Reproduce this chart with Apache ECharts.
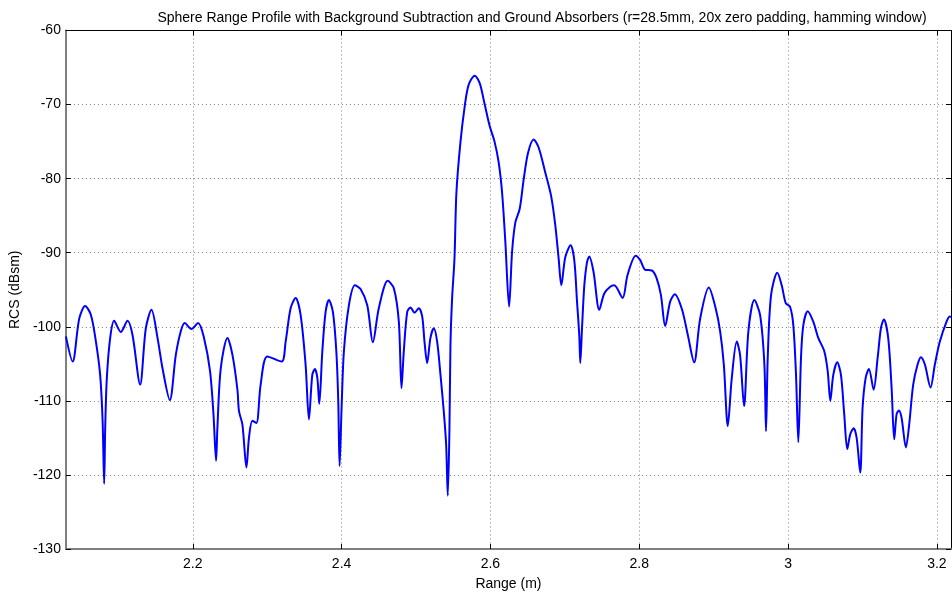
<!DOCTYPE html>
<html>
<head>
<meta charset="utf-8">
<script src="https://cdn.jsdelivr.net/npm/echarts@6/dist/echarts.min.js"></script>
<style>
html,body{margin:0;padding:0;background:#fff;}
#chart{width:952px;height:596px;}
</style>
</head>
<body>
<div id="chart"></div>
<script>
const chartTitle = 'Sphere Range Profile with Background Subtraction and Ground Absorbers (r=28.5mm, 20x zero padding, hamming window)';
const xAxisName = 'Range (m)';
const yAxisName = 'RCS (dBsm)';
const xTicks = [2.2, 2.4, 2.6, 2.8, 3.0, 3.2];
const xMin = 2.0295, xMax = 3.219;
const yMin = -130, yMax = -60, yStep = 10;

const rangeM = [
2.0295,2.0385,2.0474,2.0554,2.0631,2.0698,2.0755,2.0788,2.0809,2.0823,2.0845,2.0890,2.0943,2.1033,2.1123,2.1190,2.1292,2.1369,2.1445,2.1526,
2.1593,2.1691,2.1772,2.1839,2.1892,2.1982,2.2071,2.2151,2.2232,2.2278,2.2313,2.2331,2.2376,2.2466,2.2533,2.2600,2.2621,2.2667,2.2721,2.2755,
2.2801,2.2855,2.2912,2.3002,2.3194,2.3248,2.3315,2.3382,2.3449,2.3516,2.3561,2.3606,2.3641,2.3674,2.3700,2.3741,2.3785,2.3829,2.3883,2.3929,
2.3955,2.3973,2.4000,2.4031,2.4098,2.4178,2.4255,2.4345,2.4420,2.4500,2.4621,2.4702,2.4769,2.4805,2.4836,2.4882,2.4926,2.4980,2.5037,2.5083,
2.5114,2.5150,2.5194,2.5239,2.5284,2.5329,2.5373,2.5405,2.5427,2.5449,2.5463,2.5486,2.5517,2.5543,2.5597,2.5655,2.5708,2.5789,2.5856,2.5919,
2.5990,2.6053,2.6111,2.6157,2.6201,2.6251,2.6291,2.6335,2.6393,2.6447,2.6506,2.6581,2.6648,2.6738,2.6815,2.6872,2.6917,2.6953,2.7006,2.7078,
2.7127,2.7164,2.7194,2.7208,2.7231,2.7262,2.7298,2.7329,2.7386,2.7463,2.7530,2.7610,2.7664,2.7776,2.7843,2.7953,2.8013,2.8080,2.8170,2.8232,
2.8291,2.8349,2.8416,2.8479,2.8573,2.8653,2.8738,2.8819,2.8935,2.9027,2.9087,2.9137,2.9190,2.9244,2.9311,2.9355,2.9409,2.9467,2.9547,2.9624,
2.9682,2.9704,2.9727,2.9772,2.9856,2.9915,2.9969,3.0027,3.0071,3.0107,3.0138,3.0174,3.0205,3.0264,3.0339,3.0406,3.0487,3.0533,3.0568,3.0608,
3.0661,3.0711,3.0755,3.0796,3.0836,3.0882,3.0922,3.0970,3.1002,3.1043,3.1087,3.1150,3.1204,3.1248,3.1288,3.1346,3.1392,3.1427,3.1459,3.1490,
3.1526,3.1584,3.1628,3.1682,3.1741,3.1785,3.1839,3.1915,3.1973,3.2040,3.2130,3.2174,3.2189
];

const rcsDbsm = [
-101.3,-104.7,-98.9,-97.2,-98.4,-102.0,-106.5,-112.7,-121.2,-113.6,-106.9,-101.5,-99.2,-100.7,-99.2,-101.1,-107.8,-100.2,-97.7,-101.5,
-105.6,-109.9,-103.8,-100.6,-99.5,-100.3,-99.5,-101.5,-106.0,-111.8,-118.1,-113.6,-105.6,-101.5,-103.8,-108.5,-111.4,-113.2,-119.0,-115.0,
-112.7,-113.0,-107.8,-104.0,-104.7,-102.0,-97.5,-96.1,-98.4,-105.1,-112.5,-106.5,-105.7,-106.9,-110.4,-103.3,-98.0,-96.4,-98.0,-103.3,
-110.0,-118.8,-110.9,-103.3,-97.1,-94.4,-94.9,-97.1,-102.1,-97.5,-93.8,-94.8,-99.3,-108.3,-103.3,-98.0,-97.4,-98.1,-97.5,-98.6,
-102.0,-104.9,-101.5,-100.2,-102.0,-106.5,-111.4,-115.9,-122.8,-114.1,-102.4,-96.0,-90.8,-81.9,-75.1,-70.2,-67.3,-66.1,-67.1,-69.8,
-72.9,-74.9,-77.8,-81.9,-88.6,-97.3,-89.9,-85.9,-84.1,-80.1,-76.5,-74.7,-75.8,-79.2,-82.3,-86.3,-90.8,-94.4,-90.6,-89.0,
-91.0,-96.6,-101.1,-104.9,-100.2,-94.4,-91.3,-90.5,-92.6,-97.7,-95.5,-94.6,-94.4,-96.1,-93.0,-90.4,-91.0,-92.3,-92.4,-93.4,
-95.7,-99.9,-96.6,-95.6,-97.6,-101.1,-104.8,-98.9,-94.7,-97.5,-100.6,-105.1,-113.4,-106.9,-102.0,-103.8,-110.7,-100.6,-96.4,-98.4,
-105.1,-114.1,-104.2,-95.7,-92.7,-94.4,-96.8,-97.3,-99.8,-106.5,-115.6,-104.2,-99.8,-97.9,-99.3,-101.5,-103.3,-106.0,-110.0,-106.5,
-104.8,-106.5,-111.8,-116.5,-114.5,-113.7,-115.0,-119.7,-110.9,-106.9,-105.7,-108.5,-104.2,-100.2,-99.0,-101.5,-108.3,-115.2,-111.8,-111.3,
-112.3,-116.3,-113.2,-107.8,-105.1,-104.1,-105.1,-108.2,-105.1,-102.0,-99.3,-98.6,-98.7
];

const seriesData = rangeM.map((x, i) => [x, rcsDbsm[i]]);
const FONT = 'Liberation Sans, Arial, sans-serif';

const chart = echarts.init(document.getElementById('chart'), null, {renderer: 'canvas'});
chart.setOption({
  animation: false,
  backgroundColor: '#ffffff',
  title: {
    text: chartTitle,
    left: 537, top: 6, textAlign: 'center',
    textStyle: {fontFamily: FONT, fontSize: 14, fontWeight: 'normal', color: '#000'}
  },
  grid: {left: 65, right: 1, top: 30.5, bottom: 43.5, containLabel: false},
  xAxis: [{
    type: 'value', min: xMin, max: xMax,
    name: xAxisName, nameLocation: 'middle', nameGap: 28,
    nameTextStyle: {fontFamily: FONT, fontSize: 14, color: '#000'},
    axisLine: {show: true, onZero: false, lineStyle: {color: '#7f7f7f', width: 2}},
    axisTick: {show: true, inside: true, length: 5, customValues: xTicks, lineStyle: {color: '#000'}},
    axisLabel: {customValues: xTicks, fontFamily: FONT, fontSize: 14, color: '#000', margin: 8,
      formatter: v => String(+v.toFixed(1))},
    splitLine: {show: true, lineStyle: {color: '#808080', type: [1, 3], width: 1}}
  }, {
    type: 'value', min: xMin, max: xMax, position: 'top',
    axisLine: {show: true, onZero: false, lineStyle: {color: '#000', width: 1}},
    axisTick: {show: true, inside: true, length: 5, customValues: xTicks, lineStyle: {color: '#000'}},
    axisLabel: {show: false}, splitLine: {show: false}
  }],
  yAxis: [{
    type: 'value', min: yMin, max: yMax, interval: yStep,
    name: yAxisName, nameLocation: 'middle', nameGap: 39, nameRotate: 90,
    nameTextStyle: {fontFamily: FONT, fontSize: 14, color: '#000'},
    axisLine: {show: true, onZero: false, lineStyle: {color: '#7f7f7f', width: 2}},
    axisTick: {show: true, inside: true, length: 5, lineStyle: {color: '#000'}},
    axisLabel: {fontFamily: FONT, fontSize: 14, color: '#000', margin: 5},
    splitLine: {show: true, lineStyle: {color: '#808080', type: [1, 3], width: 1}}
  }, {
    type: 'value', min: yMin, max: yMax, interval: yStep, position: 'right',
    axisLine: {show: true, onZero: false, lineStyle: {color: '#000', width: 1}},
    axisTick: {show: true, inside: true, length: 5, lineStyle: {color: '#000'}},
    axisLabel: {show: false}, splitLine: {show: false}
  }],
  series: [{
    type: 'line',
    data: seriesData,
    showSymbol: false,
    smooth: 0.3,
    lineStyle: {color: '#0000ff', width: 2},
    clip: true
  }]
});
</script>
</body>
</html>
